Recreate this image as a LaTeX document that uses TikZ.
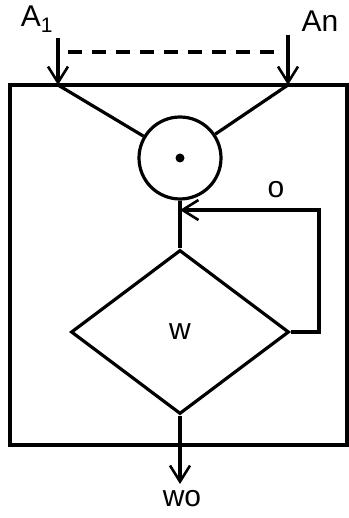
\documentclass[tikz,border=0pt]{standalone}
\usepackage{fontspec}
\setsansfont{Liberation Sans}
\usetikzlibrary{arrows.meta,shapes.geometric}
\begin{document}
\begin{tikzpicture}[x=1pt, y=-1pt, line width=3.2pt,
    every node/.style={font=\sffamily\fontsize{30}{34}\selectfont},
    tip/.style={-{Straight Barb[length=16pt,width=20pt,line width=2.6pt]}}]
  \useasboundingbox (0,0) rectangle (348,518);
  \draw (10,85) rectangle (347,445);
  % inputs
  \node (aone) at (37,19) {A\textsubscript{1}};
  \node (an) at (320,21) {An};
  \coordinate (aonetop) at (58,38);
  \coordinate (aonetip) at (58,85);
  \coordinate (antop) at (288,35);
  \coordinate (antip) at (288,85);
  \coordinate (dashl) at (68,52);
  \coordinate (dashr) at (280,52);
  \draw[tip] (aonetop) -- (aonetip);
  \draw[tip] (antop) -- (antip);
  \draw[dash pattern=on 14pt off 10pt] (dashl) -- (dashr);
  % sum and weight
  \node[circle, draw, minimum size=82pt, inner sep=0pt] (circ) at (180,158) {};
  \fill (circ.center) circle (4.5pt);
  \node[diamond, draw, minimum width=218pt, minimum height=164pt, inner sep=0pt] (wdia) at (180,332) {w};
  \draw (aonetip) -- (circ);
  \draw (antip) -- (circ);
  \draw (circ) -- (wdia.north);
  % feedback
  \coordinate (fbin) at (180,210);
  \coordinate (fbcorner) at (319,210);
  \draw[tip] (wdia.east) -| (fbcorner) -- (fbin);
  \node (o) at (276,190) {o};
  % output
  \coordinate (wout) at (180,484);
  \draw[tip] (wdia.south) -- (wout);
  \node[inner sep=1pt] (wo) at (182,499) {wo};
\end{tikzpicture}
\end{document}
